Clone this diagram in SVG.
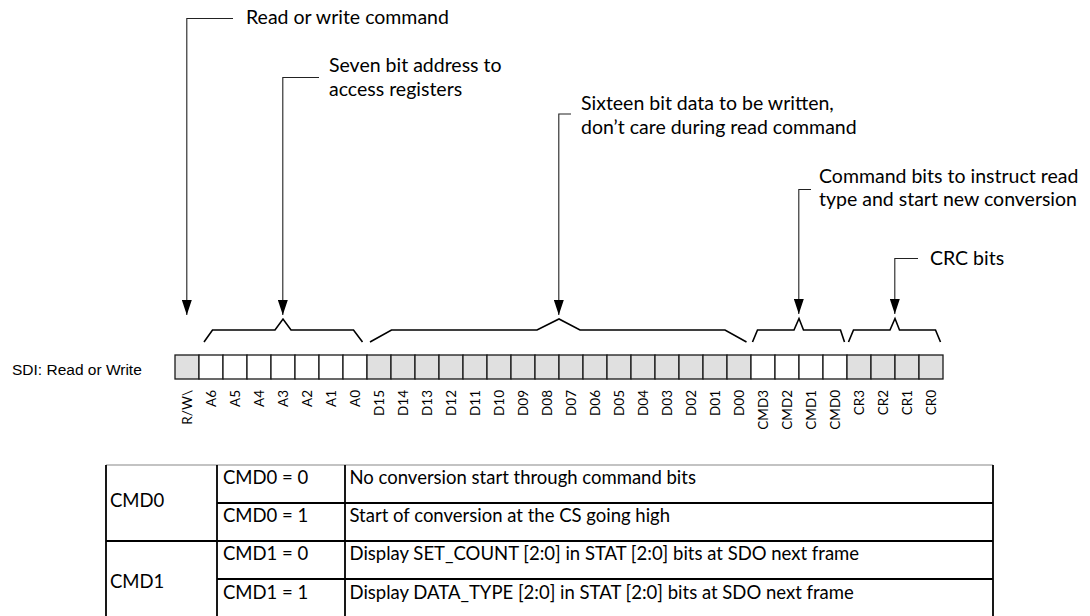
<svg xmlns="http://www.w3.org/2000/svg" width="1090" height="616" viewBox="0 0 1090 616">
<defs>
<marker id="arr" markerUnits="userSpaceOnUse" markerWidth="15" markerHeight="10" refX="15" refY="5" orient="auto" viewBox="0 0 15 10"><path d="M0,0 L15,5 L0,10 z" fill="#000"/></marker>
</defs>
<style>
.ann{font-family:Lato,"Open Sans","Liberation Sans",sans-serif;font-size:19.5px;fill:#000}
.bit{font-family:Lato,"Open Sans","Liberation Sans",sans-serif;font-size:13.5px;fill:#000;text-anchor:end}
.sdi{font-family:"Liberation Sans",Arial,sans-serif;font-size:15.5px;fill:#000}
.cell{stroke:#1a1a1a;stroke-width:1.3}
.g{fill:#e0e0e0}
.w{fill:#fff}
.lead{fill:none;stroke:#222;stroke-width:1.1;marker-end:url(#arr)}
.br{fill:none;stroke:#000;stroke-width:1.6;stroke-linejoin:miter}
.tb{fill:none;stroke:#000;stroke-width:1.8}
.tt{font-family:Lato,"Open Sans","Liberation Sans",sans-serif;font-size:18.5px;fill:#000}
</style>
<rect width="1090" height="616" fill="#fff"/>

<g id="label-rw"><text class="ann" x="246" y="23.5">Read or write command</text></g>
<g id="label-addr"><text class="ann" x="329" y="71.5">Seven bit address to</text><text class="ann" x="329" y="95.5">access registers</text></g>
<g id="label-data"><text class="ann" x="581" y="109.5">Sixteen bit data to be written,</text><text class="ann" x="581" y="133.5">don’t care during read command</text></g>
<g id="label-cmd"><text class="ann" x="819" y="182.5">Command bits to instruct read</text><text class="ann" x="819" y="206">type and start new conversion</text></g>
<g id="label-crc"><text class="ann" x="930" y="264.5">CRC bits</text></g>

<g id="connectors">
<path class="lead" d="M233,18.5 H186.8 V315"/>
<path class="lead" d="M319,77.5 H282.8 V315"/>
<path class="lead" d="M571,114 H558.8 V315"/>
<path class="lead" d="M811,189.5 H798.8 V314"/>
<path class="lead" d="M918,258.5 H894.8 V314"/>
<polyline class="br" points="204,342 212.5,330 275,330 283,319 291,330 353.5,330 362.5,342"/>
<polyline class="br" points="370,342 391.5,330 537,330 559,319 580,330 725,330 746.5,342"/>
<polyline class="br" points="752.5,342 757.5,330 794,330 799,318.5 803.5,330 840.5,330 844.5,342"/>
<polyline class="br" points="848.5,342 853.5,330 890,330 895,318.5 899.5,330 935.5,330 940.5,342"/>
</g>

<g id="sdi-label"><text class="sdi" x="12" y="374.5">SDI: Read or Write</text></g>

<g id="bit-row">
<rect class="cell g" x="175" y="355" width="24" height="24"/>
<rect class="cell w" x="199" y="355" width="24" height="24"/>
<rect class="cell w" x="223" y="355" width="24" height="24"/>
<rect class="cell w" x="247" y="355" width="24" height="24"/>
<rect class="cell w" x="271" y="355" width="24" height="24"/>
<rect class="cell w" x="295" y="355" width="24" height="24"/>
<rect class="cell w" x="319" y="355" width="24" height="24"/>
<rect class="cell w" x="343" y="355" width="24" height="24"/>
<rect class="cell g" x="367" y="355" width="24" height="24"/>
<rect class="cell g" x="391" y="355" width="24" height="24"/>
<rect class="cell g" x="415" y="355" width="24" height="24"/>
<rect class="cell g" x="439" y="355" width="24" height="24"/>
<rect class="cell g" x="463" y="355" width="24" height="24"/>
<rect class="cell g" x="487" y="355" width="24" height="24"/>
<rect class="cell g" x="511" y="355" width="24" height="24"/>
<rect class="cell g" x="535" y="355" width="24" height="24"/>
<rect class="cell g" x="559" y="355" width="24" height="24"/>
<rect class="cell g" x="583" y="355" width="24" height="24"/>
<rect class="cell g" x="607" y="355" width="24" height="24"/>
<rect class="cell g" x="631" y="355" width="24" height="24"/>
<rect class="cell g" x="655" y="355" width="24" height="24"/>
<rect class="cell g" x="679" y="355" width="24" height="24"/>
<rect class="cell g" x="703" y="355" width="24" height="24"/>
<rect class="cell g" x="727" y="355" width="24" height="24"/>
<rect class="cell w" x="751" y="355" width="24" height="24"/>
<rect class="cell w" x="775" y="355" width="24" height="24"/>
<rect class="cell w" x="799" y="355" width="24" height="24"/>
<rect class="cell w" x="823" y="355" width="24" height="24"/>
<rect class="cell g" x="847" y="355" width="24" height="24"/>
<rect class="cell g" x="871" y="355" width="24" height="24"/>
<rect class="cell g" x="895" y="355" width="24" height="24"/>
<rect class="cell g" x="919" y="355" width="24" height="24"/>
</g>

<g id="bit-labels">
<text class="bit" transform="translate(191.5,390) rotate(-90)">R/W\</text>
<text class="bit" transform="translate(215.5,390) rotate(-90)">A6</text>
<text class="bit" transform="translate(239.5,390) rotate(-90)">A5</text>
<text class="bit" transform="translate(263.5,390) rotate(-90)">A4</text>
<text class="bit" transform="translate(287.5,390) rotate(-90)">A3</text>
<text class="bit" transform="translate(311.5,390) rotate(-90)">A2</text>
<text class="bit" transform="translate(335.5,390) rotate(-90)">A1</text>
<text class="bit" transform="translate(359.5,390) rotate(-90)">A0</text>
<text class="bit" transform="translate(383.5,390) rotate(-90)">D15</text>
<text class="bit" transform="translate(407.5,390) rotate(-90)">D14</text>
<text class="bit" transform="translate(431.5,390) rotate(-90)">D13</text>
<text class="bit" transform="translate(455.5,390) rotate(-90)">D12</text>
<text class="bit" transform="translate(479.5,390) rotate(-90)">D11</text>
<text class="bit" transform="translate(503.5,390) rotate(-90)">D10</text>
<text class="bit" transform="translate(527.5,390) rotate(-90)">D09</text>
<text class="bit" transform="translate(551.5,390) rotate(-90)">D08</text>
<text class="bit" transform="translate(575.5,390) rotate(-90)">D07</text>
<text class="bit" transform="translate(599.5,390) rotate(-90)">D06</text>
<text class="bit" transform="translate(623.5,390) rotate(-90)">D05</text>
<text class="bit" transform="translate(647.5,390) rotate(-90)">D04</text>
<text class="bit" transform="translate(671.5,390) rotate(-90)">D03</text>
<text class="bit" transform="translate(695.5,390) rotate(-90)">D02</text>
<text class="bit" transform="translate(719.5,390) rotate(-90)">D01</text>
<text class="bit" transform="translate(743.5,390) rotate(-90)">D00</text>
<text class="bit" transform="translate(767.5,390) rotate(-90)">CMD3</text>
<text class="bit" transform="translate(791.5,390) rotate(-90)">CMD2</text>
<text class="bit" transform="translate(815.5,390) rotate(-90)">CMD1</text>
<text class="bit" transform="translate(839.5,390) rotate(-90)">CMD0</text>
<text class="bit" transform="translate(863.5,390) rotate(-90)">CR3</text>
<text class="bit" transform="translate(887.5,390) rotate(-90)">CR2</text>
<text class="bit" transform="translate(911.5,390) rotate(-90)">CR1</text>
<text class="bit" transform="translate(935.5,390) rotate(-90)">CR0</text>
</g>

<g id="cmd-table">
<line x1="106" y1="465" x2="993" y2="465" stroke="#888" stroke-width="1.2"/>
<path class="tb" d="M106,465 V618 M217,465 V618 M345,465 V618 M993,465 V618 M217,503 H993 M106,541 H993 M217,579 H993 M106,617 H993"/>
<text class="tt" x="110" y="506.5">CMD0</text>
<text class="tt" x="110" y="588">CMD1</text>
<text class="tt" x="223" y="483.5">CMD0 = 0</text>
<text class="tt" x="223" y="522">CMD0 = 1</text>
<text class="tt" x="223" y="560">CMD1 = 0</text>
<text class="tt" x="223" y="598.5">CMD1 = 1</text>
<text class="tt" x="349.5" y="483.5">No conversion start through command bits</text>
<text class="tt" x="349.5" y="522">Start of conversion at the CS going high</text>
<text class="tt" x="349.5" y="560">Display SET_COUNT [2:0] in STAT [2:0] bits at SDO next frame</text>
<text class="tt" x="349.5" y="598.5">Display DATA_TYPE [2:0] in STAT [2:0] bits at SDO next frame</text>
</g>
</svg>
